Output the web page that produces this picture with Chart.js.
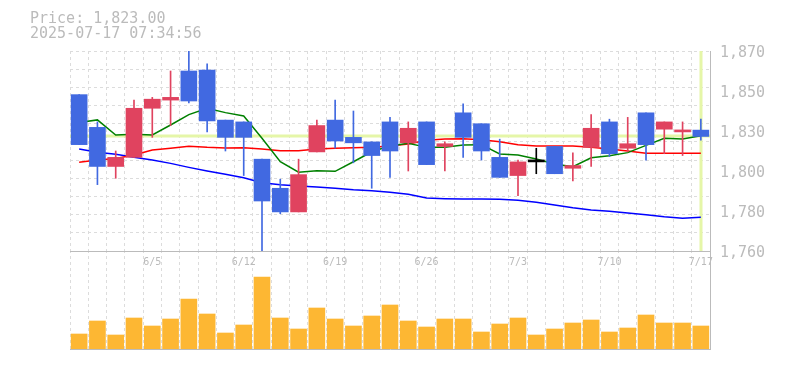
<!DOCTYPE html>
<html>
<head>
<meta charset="utf-8">
<style>
    body { margin: 0; background: #fff; }
    #wrap { position: relative; width: 785px; height: 370px; }
    #wrap canvas { position: absolute; left: 0; top: 0; }
    .info { position: absolute; left: 30px; font: 15px/15px "DejaVu Sans Mono", monospace; color: #bbb; white-space: pre; }
</style>
<script src="https://cdn.jsdelivr.net/npm/chart.js@4.4.1/dist/chart.umd.min.js"></script>
</head>
<body>
<div id="wrap">
    <canvas id="volume" width="785" height="370"></canvas>
    <canvas id="price" width="785" height="370"></canvas>
    <div class="info" style="top: 11px">Price: 1,823.00</div>
    <div class="info" style="top: 26px">2025-07-17 07:34:56</div>
</div>
<script>
const dates = ["5/30", "6/2", "6/3", "6/4", "6/5", "6/6", "6/9", "6/10", "6/11", "6/12",
    "6/13", "6/16", "6/17", "6/18", "6/19", "6/20", "6/23", "6/24", "6/25", "6/26",
    "6/27", "6/30", "7/1", "7/2", "7/3", "7/4", "7/7", "7/8", "7/9", "7/10",
    "7/11", "7/14", "7/15", "7/16", "7/17"]
const tickDates = ["6/5", "6/12", "6/19", "6/26", "7/3", "7/10", "7/17"]

const opens = [1846, 1828, 1806.5, 1811.5, 1838.5, 1843, 1859, 1859.5, 1832, 1831,
    1810.5, 1794.5, 1781.5, 1814.5, 1832, 1822.5, 1820, 1831, 1819.5, 1831,
    1817.5, 1836, 1830, 1811.5, 1801.5, 1809, 1817.5, 1805.5, 1817, 1831,
    1816.5, 1836, 1827, 1825.5, 1826.5]
const highs = [1846, 1831, 1815, 1843, 1844.5, 1859, 1870, 1863, 1832, 1831,
    1810.5, 1799.5, 1810.5, 1832, 1843, 1837, 1820, 1833.5, 1831, 1831,
    1820, 1841, 1830, 1821.5, 1810, 1816.5, 1817.5, 1814, 1835, 1832.5,
    1833.5, 1836, 1831, 1831, 1832.5]
const lows = [1818.5, 1796.5, 1800, 1811.5, 1822.5, 1829, 1841.5, 1825.5, 1815, 1801.5,
    1760, 1780.5, 1781.5, 1814.5, 1816.5, 1808.5, 1794.5, 1800.5, 1804, 1807.5,
    1804, 1811.5, 1810, 1800.5, 1790.5, 1802.5, 1802.5, 1798.5, 1806.5, 1812,
    1814.5, 1810, 1813.5, 1812.5, 1821]
const closes = [1818.5, 1806.5, 1811.5, 1838.5, 1843.5, 1844.5, 1842.5, 1831.5, 1822.5, 1822.5,
    1787.5, 1781.5, 1802, 1829, 1820.5, 1819.5, 1812.5, 1815, 1827.5, 1807.5,
    1819, 1822.5, 1815, 1800.5, 1809, 1809, 1802.5, 1807, 1827.5, 1813.5,
    1819, 1818.5, 1831, 1826.5, 1823]

const ma5 = [1830.7, 1832.1, 1823.8, 1824.2, 1823.8, 1829.3, 1835.0, 1838.5, 1836.1, 1834.3,
    1822.0, 1809.1, 1803.3, 1804.2, 1803.8, 1809.1, 1814.6, 1817.8, 1819.2, 1817.0,
    1817.0, 1818.3, 1818.5, 1813.4, 1812.8, 1810.6, 1807.9, 1806.4, 1811.3, 1812.4,
    1814.1, 1818.1, 1822.0, 1821.6, 1823.4]
const ma25 = [1808.8, 1810.0, 1810.9, 1812.8, 1815.6, 1816.5, 1817.6, 1817.0, 1816.7, 1816.8,
    1816.1, 1815.2, 1815.2, 1816.1, 1816.5, 1816.8, 1817.0, 1817.8, 1818.9, 1820.9,
    1821.6, 1821.8, 1821.2, 1820.1, 1818.5, 1817.8, 1817.8, 1817.8, 1817.0, 1816.1,
    1815.0, 1813.7, 1813.7, 1813.7, 1813.7]
const ma75 = [1816.1, 1814.3, 1813.2, 1811.5, 1810.0, 1808.2, 1806.0, 1804.0, 1802.2, 1800.3,
    1797.6, 1796.5, 1795.8, 1795.2, 1794.5, 1793.7, 1793.2, 1792.3, 1791.2, 1789.2,
    1788.8, 1788.6, 1788.6, 1788.4, 1787.9, 1786.8, 1785.3, 1783.8, 1782.6, 1781.8,
    1780.9, 1780.0, 1778.8, 1778.0, 1778.5]

const volumes = [15000, 28000, 14000, 31000, 23000, 30000, 50000, 35000, 16000, 24000,
    72000, 31000, 20000, 41000, 30000, 23000, 33000, 44000, 28000, 22000,
    30000, 30000, 17000, 25000, 31000, 14000, 20000, 26000, 29000, 17000,
    21000, 34000, 26000, 26000, 23000]

const priceTicks = [1760, 1782, 1804, 1826, 1848, 1870]
const priceTickLabels = ["1,760", "1,780", "1,800", "1,830", "1,850", "1,870"]
const lastPrice = 1823

const upColor = "#e0435f"
const downColor = "#4169e1"
const gridColor = "#dcdcdc"
const axisColor = "#bbbbbb"

const candleColors = dates.map((d, i) => {
    if (closes[i] > opens[i]) return upColor
    if (closes[i] < opens[i]) return downColor
    return "#000000"
})

// pale band for the latest price and the latest day
const highlightPlugin = {
    id: "highlight",
    beforeDatasetsDraw(chart) {
        const { ctx, chartArea, scales } = chart
        const y = Math.round(scales.y.getPixelForValue(lastPrice))
        const x = Math.round(scales.x.getPixelForValue(dates.length - 1))
        ctx.save()
        ctx.strokeStyle = "#e5f6a8"
        ctx.lineWidth = 3
        ctx.beginPath()
        ctx.moveTo(chartArea.left, y)
        ctx.lineTo(chartArea.right, y)
        ctx.moveTo(x, chartArea.top)
        ctx.lineTo(x, chartArea.bottom)
        ctx.stroke()
        ctx.restore()
    }
}

const lineSet = (data, color, order) => ({
    type: "line",
    data: data,
    borderColor: color,
    borderWidth: 1.5,
    pointRadius: 0,
    tension: 0,
    order: order
})

new Chart(document.getElementById("volume"), {
    type: "bar",
    data: {
        labels: dates,
        datasets: [
            {
                data: volumes,
                backgroundColor: "#fdb733",
                barThickness: 16
            }
        ]
    },
    options: {
        responsive: false,
        animation: false,
        layout: { padding: { top: 250, left: 70 } },
        plugins: { legend: { display: false }, tooltip: { enabled: false } },
        scales: {
            x: {
                offset: true,
                grid: { color: gridColor, offset: true, drawTicks: false },
                border: { display: true, color: axisColor, dash: [3, 3] },
                ticks: { display: false },
                afterFit(s) { s.height = 21 }
            },
            y: {
                position: "right",
                min: 0,
                max: 99000,
                grid: { display: false, drawTicks: false },
                border: { display: true, color: axisColor },
                ticks: { display: false },
                afterFit(s) { s.width = 75 }
            }
        }
    }
})

new Chart(document.getElementById("price"), {
    type: "bar",
    data: {
        labels: dates,
        datasets: [
            {
                data: dates.map((d, i) => [opens[i], closes[i]]),
                backgroundColor: candleColors,
                barThickness: 16,
                minBarLength: 2,
                grouped: false,
                order: 0
            },
            {
                data: dates.map((d, i) => [lows[i], highs[i]]),
                backgroundColor: candleColors,
                barThickness: 1,
                grouped: false,
                order: 1
            },
            lineSet(ma5, "#008000", 2),
            lineSet(ma25, "#ff0000", 3),
            lineSet(ma75, "#0000ff", 4)
        ]
    },
    options: {
        responsive: false,
        animation: false,
        layout: { padding: { top: 51, left: 70 } },
        plugins: { legend: { display: false }, tooltip: { enabled: false } },
        scales: {
            x: {
                offset: true,
                grid: { color: gridColor, offset: true, drawTicks: false },
                border: { display: true, color: axisColor, dash: [3, 3] },
                ticks: {
                    autoSkip: false,
                    maxRotation: 0,
                    padding: 5,
                    color: axisColor,
                    font: { family: "DejaVu Sans Mono", size: 10 },
                    callback: (v, i) => tickDates.includes(dates[i]) ? dates[i] : ""
                },
                afterFit(s) { s.height = 119 }
            },
            y: {
                type: "linear",
                position: "left",
                min: 1760,
                max: 1870,
                grid: { color: gridColor, drawTicks: false },
                border: { display: false, dash: [3, 3] },
                ticks: { display: false, stepSize: 10 },
                afterFit(s) { s.width = 0 }
            },
            yLabels: {
                type: "linear",
                position: "right",
                min: 1760,
                max: 1870,
                grid: { display: false, drawTicks: false },
                border: { display: true, color: axisColor },
                ticks: {
                    padding: 10,
                    labelOffset: 2,
                    color: axisColor,
                    font: { family: "DejaVu Sans Mono", size: 15 },
                    callback: (v, i) => priceTickLabels[i]
                },
                afterBuildTicks(s) { s.ticks = priceTicks.map(v => ({ value: v })) },
                afterFit(s) { s.width = 75 }
            }
        }
    },
    plugins: [highlightPlugin]
})
</script>
</body>
</html>
